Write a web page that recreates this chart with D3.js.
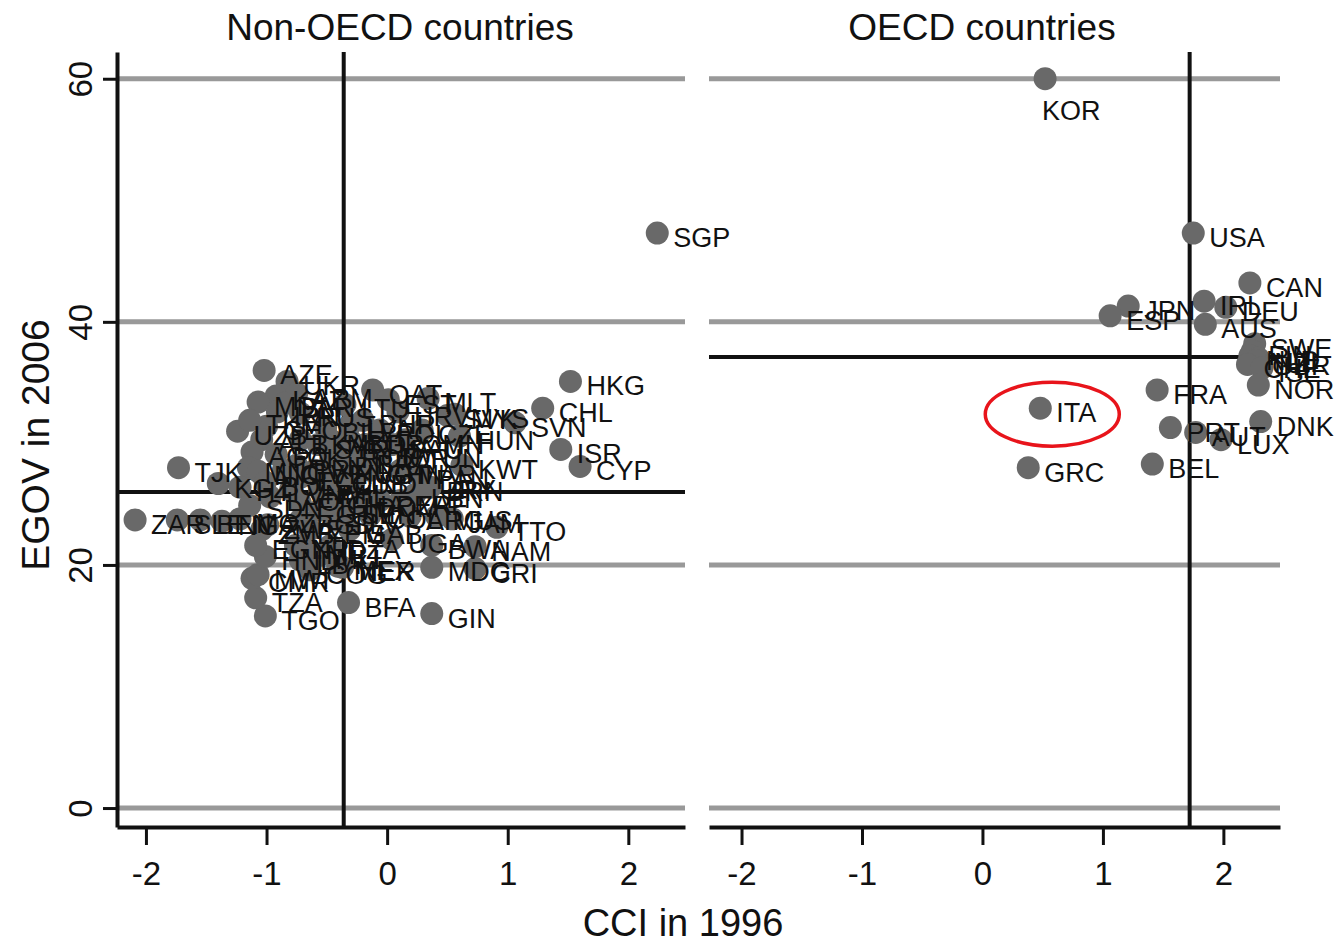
<!DOCTYPE html>
<html>
<head>
<meta charset="utf-8">
<script src="https://cdn.jsdelivr.net/npm/d3@7"></script>
<style>
body{margin:0;background:#fff;}
svg{font-family:"Liberation Sans",Arial,sans-serif;}
</style>
</head>
<body>
<svg id="chart" width="1336" height="943"></svg>
<script>
// non-OECD countries: CCI 1996 vs EGOV 2006
var nonOecdCodes=["SGP","HKG","CHL","SVN","ISR","CYP","MLT","QAT","EST","SVK","MYS","HUN","KWT","BRN","CZE",
  "TTO","NAM","BWA","CRI","MDG","GIN","BFA","TGO","TZA","CMR","MWI","HND","ZAR","SLE","BEN","NGA","MOZ",
  "TJK","KGZ","AZE","UKR","KAZ","ARM","MDA","BLR","IRN","GEO","RUS","UZB","TKM","ALB","AGO","PAK","LKA",
  "SYR","BIH","MNG","NIC","CIV","HTI","BOL","ECU","PRY","VEN","IDN","PHL","LAO","SDN","ETH","VNM","ZWE",
  "ZMB","EGY","UGA","MEX","NER","LTU","BHR","LVA","POL","HRV","OMN","SAU","JOR","TUN","MAR","BGR","ROU",
  "THA","CHN","IND","BRA","ARG","MUS","JAM","PAN","MKD","YUG","GHA","SEN","GTM","SLV","DOM","PER","COL",
  "MRT","GAB","YEM","BGD","NPL","MLI","DZA","LBY","COG","ZAF","LBN","CUB","URY"];
var nonOecdCci=[2.24,1.52,1.29,1.06,1.44,1.60,0.34,-0.12,0.01,0.50,0.56,0.60,0.62,0.36,0.29,
  0.91,0.73,0.37,0.73,0.37,0.37,-0.32,-1.01,-1.09,-1.12,-1.07,-1.01,-2.09,-1.74,-1.55,-1.37,-1.22,
  -1.73,-1.40,-1.02,-0.83,-0.92,-0.75,-1.07,-0.85,-0.91,-1.00,-0.72,-1.24,-1.14,-1.04,-1.12,-0.92,-0.72,
  -0.57,-0.51,-1.15,-1.07,-0.86,-1.22,-1.01,-0.72,-0.75,-0.60,-0.47,-0.56,-0.97,-1.14,-0.72,-0.80,-0.99,
  -1.04,-1.09,0.04,-0.41,-0.37,-0.35,-0.20,-0.31,-0.06,0.09,0.15,0.04,-0.06,0.19,0.11,-0.31,-0.35,
  -0.18,-0.14,-0.27,-0.22,0.19,0.41,0.54,0.27,-0.47,-0.39,-0.47,-0.35,-0.56,-0.43,-0.22,-0.06,-0.14,
  -0.64,-0.31,-0.64,-0.72,-0.76,-0.56,-0.47,-0.72,-0.64,0.11,0.23,-0.43,0.30];
var nonOecdEgov=[47.3,35.1,32.9,31.7,29.5,28.1,33.7,34.4,33.6,32.3,32.4,30.6,28.2,26.4,31.1,
  23.1,21.5,21.6,19.7,19.8,16.0,16.9,15.8,17.3,18.9,19.2,20.7,23.7,23.7,23.7,23.6,23.8,
  28.0,26.7,36.0,35.1,33.9,34.1,33.4,33.3,32.6,31.4,32.5,31.0,31.9,30.3,29.3,29.1,30.3,
  29.9,31.3,28.0,27.7,27.8,26.4,26.8,27.2,28.2,27.8,28.5,26.2,25.6,24.9,25.1,26.2,23.3,
  22.9,21.6,22.1,19.9,19.8,33.2,31.9,31.5,31.1,32.6,30.3,29.9,29.1,29.1,27.8,30.3,29.1,
  29.9,27.8,27.0,28.6,24.0,24.0,23.8,27.4,30.3,27.8,25.3,24.5,24.5,23.7,25.1,25.3,24.1,
  21.2,22.9,22.9,23.7,21.6,20.8,21.6,20.4,19.6,25.3,25.8,27.0,26.6];

// OECD countries
var oecdCodes=["KOR","USA","CAN","JPN","ESP","IRL","DEU","AUS","SWE","FIN","NLD","NZL","GBR","CHE","ISL",
  "NOR","DNK","FRA","ITA","GRC","BEL","PRT","AUT","LUX"];
var oecdCci=[0.52,1.75,2.22,1.21,1.06,1.84,2.02,1.85,2.26,2.24,2.22,2.29,2.27,2.20,2.32,
  2.29,2.31,1.45,0.48,0.38,1.41,1.56,1.77,1.98];
var oecdEgov=[60.0,47.3,43.2,41.3,40.5,41.7,41.2,39.8,38.2,37.6,37.2,37.0,36.8,36.5,36.2,
  34.8,31.8,34.4,32.9,28.0,28.3,31.3,30.9,30.3];

var panelTitles=["Non-OECD countries","OECD countries"];
var meanCci=[-0.36,1.72];
var meanEgov=[26.0,37.1];
var xTicks=[-2,-1,0,1,2];
var yTicks=[0,20,40,60];
var labelBelow=["KOR"];

var svg=d3.select("#chart");
var plotTop=52;
var plotBottom=827;

var yScale=d3.scaleLinear()
    .domain([-1.56,62.2])
    .range([plotBottom,plotTop]);

var panels=[
  {x0:117,x1:685,dom:[-2.24,2.47],titleX:400,codes:nonOecdCodes,cci:nonOecdCci,egov:nonOecdEgov},
  {x0:709,x1:1280,dom:[-2.27,2.47],titleX:982,codes:oecdCodes,cci:oecdCci,egov:oecdEgov}
];

panels.forEach(function(p,i){
    var xScale=d3.scaleLinear().domain(p.dom).range([p.x0,p.x1]);
    var g=svg.append("g");
    var data=p.codes.map(function(c,k){return {code:c,x:p.cci[k],y:p.egov[k]};});

    // grid
    g.selectAll("line.grid")
        .data(yTicks)
        .enter()
        .append("line")
        .attr("x1",p.x0).attr("x2",p.x1)
        .attr("y1",function(d){return yScale(d);})
        .attr("y2",function(d){return yScale(d);})
        .attr("stroke","#999")
        .attr("stroke-width",5);

    // mean lines
    g.append("line")
        .attr("x1",xScale(meanCci[i])).attr("x2",xScale(meanCci[i]))
        .attr("y1",plotTop).attr("y2",plotBottom)
        .attr("stroke","#111").attr("stroke-width",4);
    g.append("line")
        .attr("x1",p.x0).attr("x2",p.x1)
        .attr("y1",yScale(meanEgov[i])).attr("y2",yScale(meanEgov[i]))
        .attr("stroke","#111").attr("stroke-width",4);

    // x axis
    var xa=g.append("g")
        .attr("transform","translate(0,"+plotBottom+")")
        .call(d3.axisBottom(xScale)
            .tickValues(xTicks)
            .tickSize(18)
            .tickSizeOuter(0)
            .tickPadding(17)
            .tickFormat(function(d){return String(d);}));
    xa.select(".domain").attr("stroke","#111").attr("stroke-width",4);
    xa.selectAll(".tick line").attr("stroke","#111").attr("stroke-width",3);
    xa.selectAll(".tick text").attr("font-size",33).attr("fill","#111")
        .attr("font-family","Liberation Sans, Arial, sans-serif");

    if(i==0){
        var ya=g.append("g")
            .attr("transform","translate("+p.x0+",0)")
            .call(d3.axisLeft(yScale)
                .tickValues(yTicks)
                .tickSize(14)
                .tickSizeOuter(0));
        ya.select(".domain").attr("stroke","#111").attr("stroke-width",4);
        ya.selectAll(".tick line").attr("stroke","#111").attr("stroke-width",3);
        ya.selectAll(".tick text")
            .attr("transform","rotate(-90)")
            .attr("x",0).attr("y",-25).attr("dy",null)
            .attr("text-anchor","middle")
            .attr("font-size",33).attr("fill","#111")
            .attr("font-family","Liberation Sans, Arial, sans-serif");
    }

    // points
    g.selectAll("circle")
        .data(data)
        .enter()
        .append("circle")
        .attr("cx",function(d){return xScale(d.x);})
        .attr("cy",function(d){return yScale(d.y);})
        .attr("r",11.5)
        .attr("fill","#696969");

    // labels
    g.selectAll("text.lab")
        .data(data)
        .enter()
        .append("text")
        .attr("class","lab")
        .attr("x",function(d){
            return labelBelow.indexOf(d.code)>=0 ? xScale(d.x)-3 : xScale(d.x)+16;
        })
        .attr("y",function(d){
            return labelBelow.indexOf(d.code)>=0 ? yScale(d.y)+41 : yScale(d.y)+14;
        })
        .attr("font-size",27)
        .attr("fill","#111")
        .text(function(d){return d.code;});

    // panel title
    g.append("text")
        .attr("x",p.titleX).attr("y",40)
        .attr("text-anchor","middle")
        .attr("font-size",37)
        .attr("fill","#111")
        .text(panelTitles[i]);

    // ring around Italy
    if(i==1){
        var k=oecdCodes.indexOf("ITA");
        g.append("ellipse")
            .attr("cx",xScale(oecdCci[k])+12)
            .attr("cy",yScale(oecdEgov[k])+6)
            .attr("rx",67).attr("ry",32)
            .attr("fill","none")
            .attr("stroke","#e8141b")
            .attr("stroke-width",3.5);
    }
});

// axis titles
svg.append("text")
    .attr("x",683).attr("y",936)
    .attr("text-anchor","middle")
    .attr("font-size",38)
    .attr("fill","#111")
    .text("CCI in 1996");

svg.append("text")
    .attr("transform","translate(49,445) rotate(-90)")
    .attr("text-anchor","middle")
    .attr("font-size",39)
    .attr("fill","#111")
    .text("EGOV in 2006");
</script>
</body>
</html>
